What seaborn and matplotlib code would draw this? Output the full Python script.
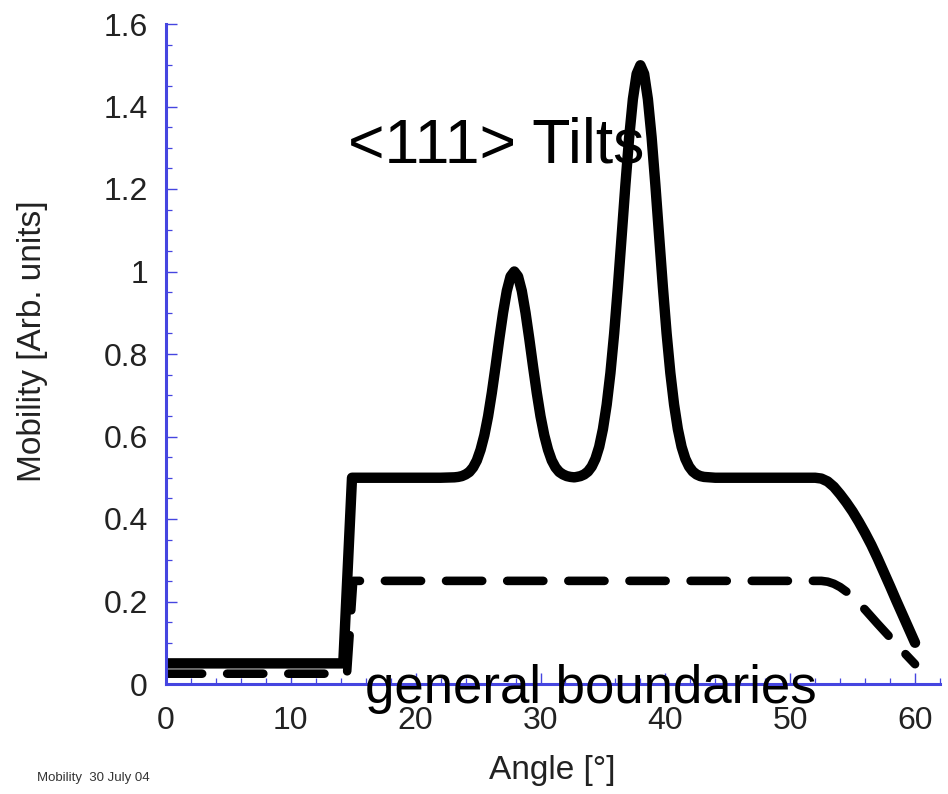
import numpy as np
import pandas as pd
import matplotlib
matplotlib.use("Agg")
import matplotlib.pyplot as plt
import seaborn as sns
from matplotlib.ticker import MultipleLocator

# ---- data ----
tilt_angle = [0, 14.2, 14.9, 18, 22, 23.1, 23.4, 23.7, 24.0, 24.3, 24.6, 24.9, 25.2, 25.5,
              25.8, 26.1, 26.4, 26.7, 27.0, 27.3, 27.6, 27.9, 28.2, 28.5, 28.8, 29.1, 29.4,
              29.7, 30.0, 30.3, 30.6, 30.9, 31.2, 31.5, 31.8, 32.1, 32.4, 32.7, 32.9, 33.2,
              33.5, 33.8, 34.1, 34.4, 34.7, 35.0, 35.3, 35.6, 35.9, 36.2, 36.5, 36.8, 37.1,
              37.4, 37.7, 38.0, 38.3, 38.6, 38.9, 39.2, 39.5, 39.8, 40.1, 40.4, 40.7, 41.0,
              41.3, 41.6, 41.9, 42.2, 42.5, 42.8, 43.1, 44, 48, 52.0, 52.5, 53.0, 53.5, 54.0,
              54.5, 55.0, 55.5, 56.0, 56.5, 57.0, 57.5, 58.0, 58.5, 59.0, 59.5, 60.0]
tilt_mobility = [0.05, 0.05, 0.5, 0.5, 0.5, 0.501, 0.502, 0.504, 0.508, 0.514, 0.525, 0.542,
                 0.568, 0.603, 0.649, 0.706, 0.770, 0.837, 0.900, 0.953, 0.988, 1.0, 0.988,
                 0.953, 0.900, 0.837, 0.770, 0.706, 0.649, 0.603, 0.568, 0.542, 0.525, 0.514,
                 0.508, 0.504, 0.502, 0.501, 0.502, 0.504, 0.508, 0.515, 0.527, 0.546, 0.575,
                 0.618, 0.677, 0.754, 0.850, 0.963, 1.086, 1.210, 1.325, 1.418, 1.479, 1.5,
                 1.479, 1.418, 1.325, 1.210, 1.086, 0.963, 0.850, 0.754, 0.677, 0.618, 0.575,
                 0.546, 0.527, 0.515, 0.508, 0.504, 0.502, 0.5, 0.5, 0.5, 0.498, 0.491, 0.478,
                 0.460, 0.440, 0.418, 0.393, 0.366, 0.337, 0.305, 0.271, 0.237, 0.202, 0.168,
                 0.134, 0.100]

general_angle = [0, 14.5, 15.0, 30, 52.5, 53.0, 53.5, 54.0, 54.5, 55.0, 55.5, 56.0, 57.0,
                 58.0, 59.0, 60.0]
general_mobility = [0.025, 0.025, 0.25, 0.25, 0.25, 0.248, 0.243, 0.235, 0.224, 0.211,
                    0.196, 0.18, 0.146, 0.113, 0.08, 0.048]

y_ticks = [0, 0.2, 0.4, 0.6, 0.8, 1.0, 1.2, 1.4, 1.6]
y_tick_labels = ["0", "0.2", "0.4", "0.6", "0.8", "1", "1.2", "1.4", "1.6"]
x_ticks = [0, 10, 20, 30, 40, 50, 60]
x_tick_labels = ["0", "10", "20", "30", "40", "50", "60"]

title_text = "<111> Tilts"
general_text = "general boundaries"
x_label = "Angle [°]"
y_label = "Mobility [Arb. units]"
footnote = "Mobility  30 July 04"

# ---- styling ----
sns.set_style("white")
plt.rcParams["font.family"] = ["Liberation Sans", "DejaVu Sans"]

blue = "#4545e0"
fig = plt.figure(figsize=(9.48, 7.94), dpi=100)
ax = fig.add_axes([166 / 948, 1 - 684 / 794, (940 - 166) / 948, (684 - 24) / 794])

df_tilt = pd.DataFrame({"angle": tilt_angle, "mobility": tilt_mobility})
df_gen = pd.DataFrame({"angle": general_angle, "mobility": general_mobility})

sns.lineplot(data=df_tilt, x="angle", y="mobility", ax=ax, color="black", lw=7.5,
             estimator=None, sort=False, solid_capstyle="round", solid_joinstyle="round")
sns.lineplot(data=df_gen, x="angle", y="mobility", ax=ax, color="black", lw=6.2,
             estimator=None, sort=False, linestyle=(0, (4.2, 2.9)),
             dash_capstyle="round", dash_joinstyle="round")

ax.set_xlim(0, 62)
ax.set_ylim(0, 1.6)

for s in ["top", "right"]:
    ax.spines[s].set_visible(False)
for s in ["left", "bottom"]:
    ax.spines[s].set_visible(True)
    ax.spines[s].set_color(blue)
    ax.spines[s].set_linewidth(2.2)

ax.set_xticks(x_ticks)
ax.set_xticklabels(x_tick_labels)
ax.set_yticks(y_ticks)
ax.set_yticklabels(y_tick_labels)
ax.xaxis.set_minor_locator(MultipleLocator(2))
ax.yaxis.set_minor_locator(MultipleLocator(0.05))

ax.tick_params(axis="both", which="major", direction="in", length=8, width=1.0,
               color=blue, labelsize=23, labelcolor="#222222")
ax.tick_params(axis="both", which="minor", direction="in", length=4, width=0.9, color=blue)
ax.tick_params(axis="y", which="both", left=True, right=False, pad=13)
ax.tick_params(axis="x", which="both", bottom=True, top=False, pad=16)
ax.grid(False)

ax.set_xlabel(x_label, fontsize=24, color="#222222", va="top")
ax.set_ylabel(y_label, fontsize=24, color="#222222")
ax.xaxis.set_label_coords(0.499, -0.108)
ax.yaxis.set_label_coords(-0.152, 0.52)

ax.text(14.6, 1.265, title_text, fontsize=45, color="black", va="baseline", ha="left")
ax.text(15.96, -0.046, general_text, fontsize=38, color="black", va="baseline", ha="left",
        clip_on=False)

fig.text(37 / 948, 1 - 778 / 794, footnote, fontsize=9.5, color="#333333", va="center",
         ha="left")

fig.savefig("out.png", dpi=100)
